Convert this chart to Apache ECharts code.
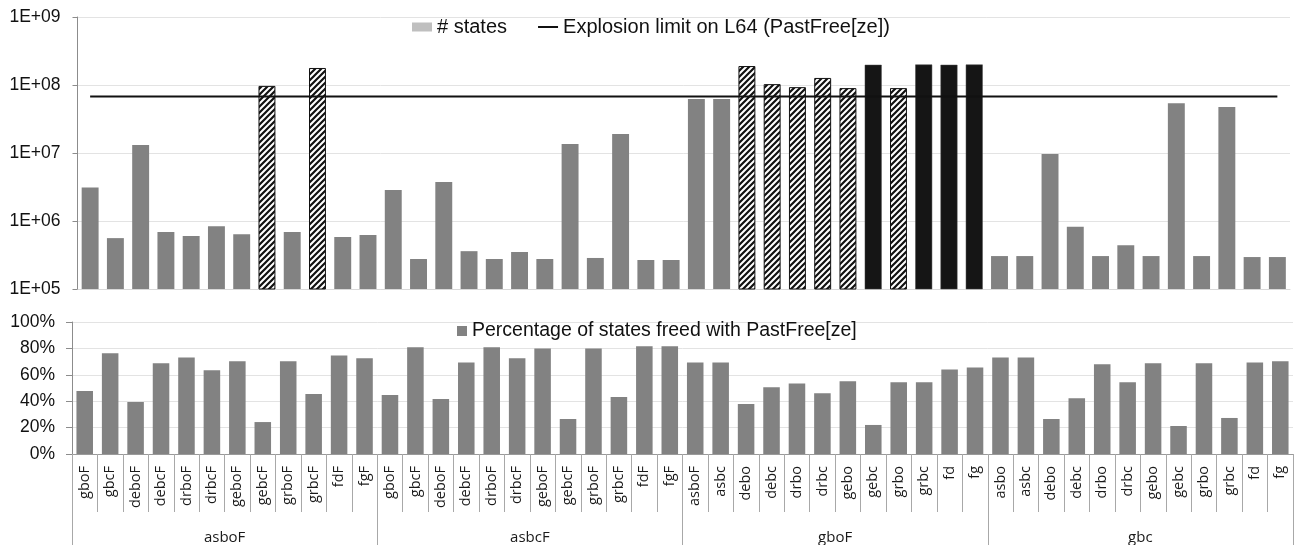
<!DOCTYPE html>
<html><head><meta charset="utf-8">
<script src="https://cdn.jsdelivr.net/npm/echarts@6/dist/echarts.min.js"></script>
<style>html,body{margin:0;padding:0;background:#fff}#c{width:1295px;height:545px}</style>
</head><body><div id="c"></div>
<script>
const groups = ['asboF', 'asbcF', 'gboF', 'gbc'];
const categories = [
  'gboF','gbcF','deboF','debcF','drboF','drbcF','geboF','gebcF','grboF','grbcF','fdF','fgF',
  'gboF','gbcF','deboF','debcF','drboF','drbcF','geboF','gebcF','grboF','grbcF','fdF','fgF',
  'asboF','asbc','debo','debc','drbo','drbc','gebo','gebc','grbo','grbc','fd','fg',
  'asbo','asbc','debo','debc','drbo','drbc','gebo','gebc','grbo','grbc','fd','fg'];
const states = [
  3.1e6, 5.6e5, 1.31e7, 6.9e5, 6.0e5, 8.4e5, 6.4e5, 9.7e7, 6.9e5, 1.78e8, 5.8e5, 6.2e5,
  2.86e6, 2.76e5, 3.75e6, 3.6e5, 2.76e5, 3.5e5, 2.76e5, 1.36e7, 2.86e5, 1.9e7, 2.67e5, 2.67e5,
  6.2e7, 6.2e7, 1.9e8, 1.03e8, 9.3e7, 1.27e8, 9.0e7, 1.98e8, 9.0e7, 2.0e8, 1.98e8, 2.0e8,
  3.05e5, 3.05e5, 9.7e6, 8.2e5, 3.05e5, 4.4e5, 3.05e5, 5.4e7, 3.05e5, 4.75e7, 2.95e5, 2.95e5];
// 0 = finished, 1 = went over the limit (hatched), 2 = did not finish (black)
const status = [
  0,0,0,0,0,0,0,1,0,1,0,0,
  0,0,0,0,0,0,0,0,0,0,0,0,
  0,0,1,1,1,1,1,2,1,2,2,2,
  0,0,0,0,0,0,0,0,0,0,0,0];
const freedPct = [
  47.7, 76.3, 39.4, 68.7, 73.2, 63.4, 70.2, 24.2, 70.2, 45.5, 74.7, 72.5,
  44.7, 80.8, 41.7, 69.4, 80.8, 72.5, 80.0, 26.5, 80.0, 43.2, 81.6, 81.6,
  69.4, 69.4, 37.9, 50.5, 53.5, 46.0, 55.1, 22.0, 54.3, 54.3, 64.1, 65.6,
  73.2, 73.2, 26.5, 42.2, 67.9, 54.3, 68.7, 21.2, 68.7, 27.3, 69.4, 70.2];
const explosionLimit = 6.8e7;
const logTickLabels = ['1E+05', '1E+06', '1E+07', '1E+08', '1E+09'];
const pctTickLabels = ['0%', '20%', '40%', '60%', '80%', '100%'];

function hatch() {
  const p = 6, c = document.createElement('canvas');
  c.width = p; c.height = p;
  const g = c.getContext('2d');
  g.fillStyle = '#fff'; g.fillRect(0, 0, p, p);
  g.strokeStyle = '#111'; g.lineWidth = 2.2;
  g.beginPath();
  g.moveTo(0, p); g.lineTo(p, 0);
  g.moveTo(-p / 2, p / 2); g.lineTo(p / 2, -p / 2);
  g.moveTo(p / 2, p * 1.5); g.lineTo(p * 1.5, p / 2);
  g.stroke();
  return c;
}
const hatchImg = hatch();
const styles = [
  { color: '#828282' },
  { color: { image: hatchImg, repeat: 'repeat' }, borderColor: '#111', borderWidth: 1 },
  { color: '#151515', borderColor: '#444', borderWidth: 0.5 }
];

const FONT = 'Liberation Sans';
const axisGray = '#8c8c8c';
const chart = echarts.init(document.getElementById('c'));
chart.setOption({
  animation: false,
  backgroundColor: '#fff',
  grid: [
    { left: 77.5, top: 17, width: 1212.5, height: 272 },
    { left: 72, top: 322, width: 1221, height: 132 }
  ],
  legend: [
    { left: 407, top: 12, itemWidth: 20, itemHeight: 9, itemGap: 31,
      textStyle: { fontFamily: FONT, fontSize: 20, color: '#111' },
      data: [
        { name: '# states', icon: 'rect', itemStyle: { color: '#bfbfbf' } },
        { name: 'Explosion limit on L64 (PastFree[ze])', icon: 'path://M0,0H20V2H0Z', itemStyle: { color: '#111' } }
      ] },
    { left: 452, top: 316, itemWidth: 10, itemHeight: 10,
      textStyle: { fontFamily: FONT, fontSize: 19.5, color: '#111' },
      data: [{ name: 'Percentage of states freed with PastFree[ze]', icon: 'rect' }] }
  ],
  xAxis: [
    { type: 'category', gridIndex: 0, data: categories, boundaryGap: true,
      axisLine: { lineStyle: { color: '#d9d9d9' } }, axisTick: { show: false }, axisLabel: { show: false } },
    { type: 'category', gridIndex: 1, data: categories, position: 'bottom', boundaryGap: true,
      axisLine: { lineStyle: { color: '#9a9a9a' } },
      axisTick: { show: true, interval: 0, length: 58, lineStyle: { color: '#a8a8a8' } },
      axisLabel: { interval: 0, rotate: 90, margin: 12, fontFamily: 'Open Sans', fontSize: 14.5, color: '#1a1a1a' } },
    { type: 'category', gridIndex: 1, data: groups, position: 'bottom', boundaryGap: true,
      axisLine: { show: false },
      axisTick: { show: true, interval: 0, length: 91, lineStyle: { color: '#a8a8a8' } },
      axisLabel: { interval: 0, margin: 76, fontFamily: 'Open Sans', fontSize: 15, color: '#1a1a1a' } }
  ],
  yAxis: [
    { type: 'log', gridIndex: 0, logBase: 10, min: 1e5, max: 1e9,
      axisLine: { show: true, lineStyle: { color: axisGray } },
      axisTick: { show: true, length: 5, lineStyle: { color: axisGray } },
      splitLine: { lineStyle: { color: '#e3e3e3' } },
      axisLabel: { margin: 17, fontFamily: FONT, fontSize: 17.5, color: '#111',
        formatter: v => logTickLabels[Math.round(Math.log10(v)) - 5] } },
    { type: 'value', gridIndex: 1, min: 0, max: 100, interval: 20,
      axisLine: { show: true, lineStyle: { color: axisGray } },
      axisTick: { show: true, length: 6, lineStyle: { color: axisGray } },
      splitLine: { lineStyle: { color: '#e3e3e3' } },
      axisLabel: { margin: 17, fontFamily: FONT, fontSize: 17.5, color: '#111',
        formatter: v => pctTickLabels[Math.round(v / 20)] } }
  ],
  series: [
    { name: '# states', type: 'bar', xAxisIndex: 0, yAxisIndex: 0, barCategoryGap: '33%',
      data: states.map((v, i) => ({ value: v, itemStyle: styles[status[i]] })) },
    { name: 'Explosion limit on L64 (PastFree[ze])', type: 'line', xAxisIndex: 0, yAxisIndex: 0,
      symbol: 'none', lineStyle: { color: '#111', width: 2 }, itemStyle: { color: '#111' }, z: 5,
      data: [[0, explosionLimit], [categories.length - 1, explosionLimit]] },
    { name: 'Percentage of states freed with PastFree[ze]', type: 'bar', xAxisIndex: 1, yAxisIndex: 1,
      barCategoryGap: '35%', itemStyle: { color: '#828282' }, data: freedPct }
  ]
});
</script></body></html>
